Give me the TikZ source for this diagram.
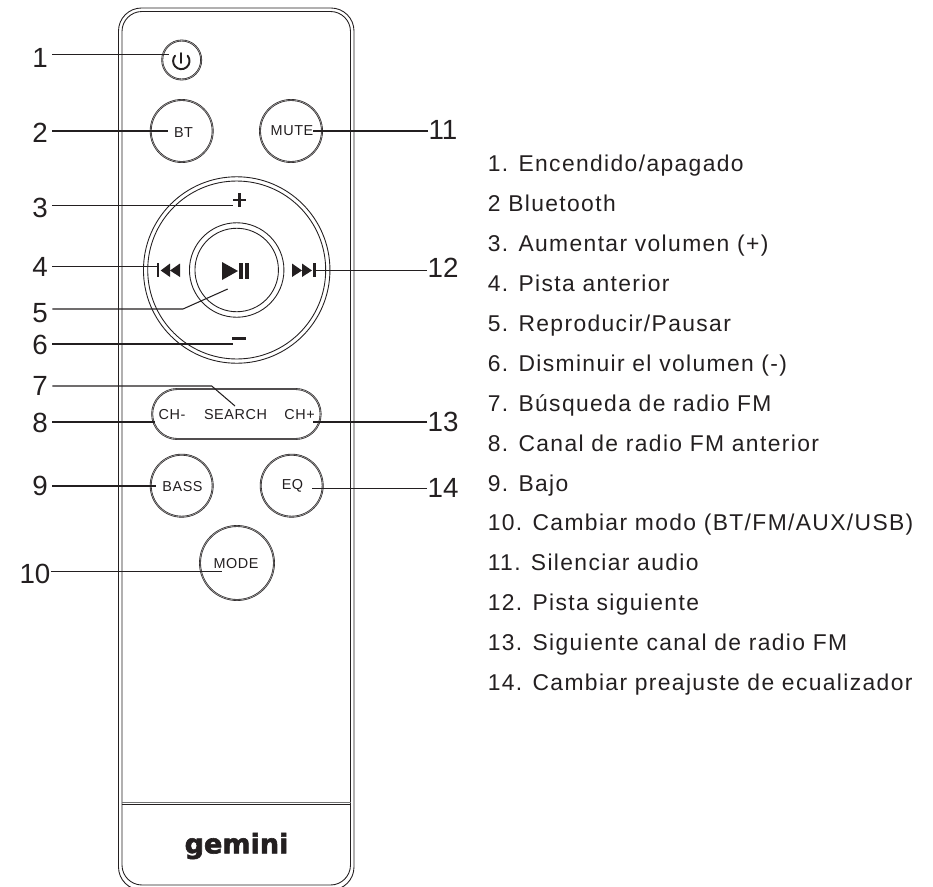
\documentclass[tikz,border=0pt]{standalone}
\usepackage{fontspec}
\setmainfont{Liberation Sans}
\newfontfamily\listfont[LetterSpace=6]{Liberation Sans}
\newfontfamily\btnfont[LetterSpace=4]{Liberation Sans}
\newfontfamily\logofont[BoldFeatures={FakeBold=2.2}]{DejaVu Sans}
\definecolor{ink}{HTML}{231F20}
\usetikzlibrary{positioning}

\begin{document}
\begin{tikzpicture}[
  x=0.02cm,
  y=-0.02cm,
  inklight/.style={line width=0.5pt, draw=ink},
  leader/.style={line width=0.6pt, draw=ink},
  button/.style={circle, draw=ink, double=black!35, line width=0.35pt, double distance=0.35pt, inner sep=0pt},
  btntext/.style={inner sep=0pt, text=ink, font=\btnfont\fontsize{8.2pt}{9pt}\selectfont},
  number/.style={inner sep=0pt, text=ink, font=\fontsize{15.8pt}{17pt}\selectfont},
  numberleft/.style={number, inner xsep=2.5pt},
  entry/.style={anchor=base west, inner sep=0pt, text=ink, font=\listfont\fontsize{13pt}{15pt}\selectfont}
]
  \useasboundingbox (0,0) rectangle (933,886);

  % body of the remote
  \draw[inklight, rounded corners=0.46cm] (118.5,8) rectangle (354,890);
  \draw[inklight, rounded corners=0.4cm] (122,11.5) rectangle (350.5,885);
  \draw[line width=0.8pt, draw=black!55] (122,802.7) -- (350.5,802.7);
  \draw[line width=0.5pt, draw=ink] (122,804.7) -- (350.5,804.7);

  % buttons
  \node[button, minimum size=0.78cm] (power) at (181.7,60) {};
  \node[button, minimum size=1.24cm] (bt) at (181.7,131) {};
  \node[button, minimum size=1.24cm] (mute) at (291,131) {};
  \node[button, minimum size=1.24cm] (bass) at (181.7,485.7) {};
  \node[button, minimum size=1.24cm] (eq) at (291.7,485.7) {};
  \node[button, minimum size=1.48cm] (mode) at (237,563) {};
  \node[circle, inklight, minimum size=3.73cm] (dialout) at (236.7,270) {};
  \node[circle, inklight, minimum size=3.56cm] (dialin) at (236.7,270) {};
  \node[circle, inklight, minimum size=1.89cm] (playout) at (236.7,270) {};
  \node[circle, inklight, minimum size=1.67cm] (playin) at (236.7,270) {};
  \node[draw=ink, double=black!35, line width=0.35pt, double distance=0.35pt, rounded corners=0.5cm, minimum width=3.37cm, minimum height=1cm, inner sep=0pt] (pill) at (236.4,414) {};

  % texts on the buttons
  \node[btntext] (btlabel) at (183.5,133) {BT};
  \node[btntext] (mutelabel) at (292,131) {MUTE};
  \node[btntext] (basslabel) at (182.5,487) {BASS};
  \node[btntext] (eqlabel) at (292.5,486) {EQ};
  \node[btntext] (modelabel) at (236,564) {MODE};
  \node[btntext] (chminus) at (172,414.5) {CH-};
  \node[btntext] (search) at (235.5,414.5) {SEARCH};
  \node[btntext] (chplus) at (299.5,414.5) {CH+};
  \node[inner sep=0pt, text=ink, font=\logofont\bfseries\fontsize{15.4pt}{17pt}\selectfont] (logo) at (236.5,846) {gemini};

  % icons
  \draw[line width=1.1pt, line cap=round, ink] (187.6,55.7) arc[start angle=-40, end angle=220, radius=8.2];
  \draw[line width=1.1pt, line cap=round, ink] (181.3,53) -- (181.3,63);
  \fill[ink] (222,262) -- (238,271) -- (222,280) -- cycle;
  \fill[ink] (239.3,263.3) rectangle (243.3,279.3);
  \fill[ink] (245,263.3) rectangle (249,279.3);
  \fill[ink] (156.7,263) rectangle (159.3,277);
  \fill[ink] (170,263.5) -- (160.7,270.5) -- (170,277) -- cycle;
  \fill[ink] (180,263.5) -- (170,270.5) -- (180,277) -- cycle;
  \fill[ink] (292,263.5) -- (302,270.5) -- (292,277) -- cycle;
  \fill[ink] (302,263.5) -- (312,270.5) -- (302,277) -- cycle;
  \fill[ink] (313.3,263) rectangle (315.7,277);
  \fill[ink] (231.7,336.7) rectangle (246,340);
  \fill[ink] (232.5,198.5) rectangle (245.5,201);
  \fill[ink] (238,193) rectangle (240.5,206.5);

  % numbers on the left
  \node[numberleft] (n1) at (40,58) {1};
  \node[numberleft] (n2) at (40,133) {2};
  \node[numberleft] (n3) at (40,208) {3};
  \node[numberleft] (n4) at (40,267) {4};
  \node[numberleft] (n5) at (40,313.5) {5};
  \node[numberleft] (n6) at (40,345) {6};
  \node[numberleft] (n7) at (40,386) {7};
  \node[numberleft] (n8) at (40,423) {8};
  \node[numberleft] (n9) at (40,486) {9};
  \node[number] (n10) at (35,574) {10};

  % numbers on the right
  \node[number] (n11) at (443,130) {11};
  \node[number] (n12) at (443,268) {12};
  \node[number] (n13) at (443,422) {13};
  \node[number] (n14) at (443,488) {14};

  % ends of the leaders
  \coordinate (t1) at (169,54.5);
  \coordinate (t2) at (168,131);
  \coordinate (t3) at (232.7,205.7);
  \coordinate (t4) at (156.7,266.7);
  \coordinate (k5) at (183,309);
  \coordinate (t5) at (227.7,289);
  \coordinate (t6) at (232.7,344);
  \coordinate (k7) at (211.7,386);
  \coordinate (t7) at (235,406);
  \coordinate (t8) at (155,422);
  \coordinate (t9) at (156,486);
  \coordinate (t10) at (221.7,571.7);
  \coordinate (t11) at (313,131);
  \coordinate (t12) at (313,270.7);
  \coordinate (t13) at (312.7,422);
  \coordinate (t14) at (312,488.7);

  \draw[leader] (n1.east |- t1) -- (t1);
  \draw[leader] (n2.east |- t2) -- (t2);
  \draw[leader] (n3.east |- t3) -- (t3);
  \draw[leader] (n4.east |- t4) -- (t4);
  \draw[leader] (n5.east |- k5) -- (k5) -- (t5);
  \draw[leader] (n6.east |- t6) -- (t6);
  \draw[leader] (n7.east |- k7) -- (k7) -- (t7);
  \draw[leader] (n8.east |- t8) -- (t8);
  \draw[leader] (n9.east |- t9) -- (t9);
  \draw[leader] (n10.east |- t10) -- (t10);
  \draw[leader] (n11.west |- t11) -- (t11);
  \draw[leader] (n12.west |- t12) -- (t12);
  \draw[leader] (n13.west |- t13) -- (t13);
  \draw[leader] (n14.west |- t14) -- (t14);

  % list of functions
  \node[entry] (e1) at (487.5,171) {1. Encendido/apagado};
  \node[entry] (e2) at (487.5,211) {2 Bluetooth};
  \node[entry] (e3) at (487.5,251) {3. Aumentar volumen (+)};
  \node[entry] (e4) at (487.5,291) {4. Pista anterior};
  \node[entry] (e5) at (487.5,331) {5. Reproducir/Pausar};
  \node[entry] (e6) at (487.5,371) {6. Disminuir el volumen (-)};
  \node[entry] (e7) at (487.5,411) {7. Búsqueda de radio FM};
  \node[entry] (e8) at (487.5,451) {8. Canal de radio FM anterior};
  \node[entry] (e9) at (487.5,491) {9. Bajo};
  \node[entry] (e10) at (487.5,530) {10. Cambiar modo (BT/FM/AUX/USB)};
  \node[entry] (e11) at (487.5,570) {11. Silenciar audio};
  \node[entry] (e12) at (487.5,610) {12. Pista siguiente};
  \node[entry] (e13) at (487.5,650) {13. Siguiente canal de radio FM};
  \node[entry] (e14) at (487.5,690) {14. Cambiar preajuste de ecualizador};
\end{tikzpicture}
\end{document}
